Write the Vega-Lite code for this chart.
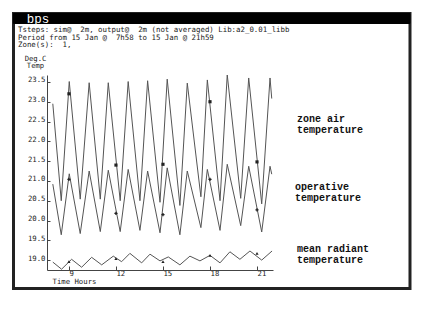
{
  "$schema": "https://vega.github.io/schema/vega-lite/v6.json",
  "width": 226,
  "height": 195,
  "autosize": {"type": "none"},
  "padding": {"left": 47, "top": 75, "right": 161, "bottom": 40},
  "background": "white",
  "config": {"view": {"stroke": null}, "font": "DejaVu Sans Mono", "axisY": {"labelOverlap": false}},
  "datasets": {
    "series": [
      {"s": "air", "t": 7.97, "v": 22.95}, {"s": "air", "t": 8.51, "v": 20.5}, {"s": "air", "t": 9.02, "v": 23.51},
      {"s": "air", "t": 9.72, "v": 20.54}, {"s": "air", "t": 10.29, "v": 23.48}, {"s": "air", "t": 11.0, "v": 20.54},
      {"s": "air", "t": 11.51, "v": 23.48}, {"s": "air", "t": 12.27, "v": 20.5}, {"s": "air", "t": 12.78, "v": 23.51},
      {"s": "air", "t": 13.53, "v": 20.5}, {"s": "air", "t": 14.02, "v": 23.53}, {"s": "air", "t": 14.81, "v": 20.46},
      {"s": "air", "t": 15.27, "v": 23.57}, {"s": "air", "t": 16.08, "v": 20.38}, {"s": "air", "t": 16.55, "v": 23.47},
      {"s": "air", "t": 17.42, "v": 20.6}, {"s": "air", "t": 17.83, "v": 23.55}, {"s": "air", "t": 18.64, "v": 20.5},
      {"s": "air", "t": 19.1, "v": 23.68}, {"s": "air", "t": 19.96, "v": 20.56}, {"s": "air", "t": 20.47, "v": 23.6},
      {"s": "air", "t": 21.3, "v": 20.42}, {"s": "air", "t": 21.83, "v": 23.6}, {"s": "air", "t": 21.94, "v": 23.08},
      {"s": "op", "t": 7.97, "v": 20.92}, {"s": "op", "t": 8.51, "v": 19.64}, {"s": "op", "t": 9.02, "v": 21.18},
      {"s": "op", "t": 9.72, "v": 19.67}, {"s": "op", "t": 10.29, "v": 21.25}, {"s": "op", "t": 11.0, "v": 19.72},
      {"s": "op", "t": 11.51, "v": 21.27}, {"s": "op", "t": 12.27, "v": 19.72}, {"s": "op", "t": 12.78, "v": 21.29},
      {"s": "op", "t": 13.53, "v": 19.75}, {"s": "op", "t": 14.02, "v": 21.25}, {"s": "op", "t": 14.81, "v": 19.69},
      {"s": "op", "t": 15.27, "v": 21.33}, {"s": "op", "t": 16.08, "v": 19.64}, {"s": "op", "t": 16.55, "v": 21.25},
      {"s": "op", "t": 17.42, "v": 19.82}, {"s": "op", "t": 17.83, "v": 21.29}, {"s": "op", "t": 18.64, "v": 19.75},
      {"s": "op", "t": 19.1, "v": 21.42}, {"s": "op", "t": 19.96, "v": 19.87}, {"s": "op", "t": 20.47, "v": 21.37},
      {"s": "op", "t": 21.3, "v": 19.71}, {"s": "op", "t": 21.83, "v": 21.37}, {"s": "op", "t": 21.94, "v": 21.17},
      {"s": "mrt", "t": 7.97, "v": 18.95}, {"s": "mrt", "t": 8.53, "v": 18.77}, {"s": "mrt", "t": 9.17, "v": 19.02},
      {"s": "mrt", "t": 9.81, "v": 18.82}, {"s": "mrt", "t": 10.45, "v": 19.07}, {"s": "mrt", "t": 11.09, "v": 18.88},
      {"s": "mrt", "t": 11.83, "v": 19.1}, {"s": "mrt", "t": 12.36, "v": 18.96}, {"s": "mrt", "t": 12.89, "v": 19.17},
      {"s": "mrt", "t": 13.64, "v": 18.93}, {"s": "mrt", "t": 14.17, "v": 19.15}, {"s": "mrt", "t": 14.81, "v": 18.98},
      {"s": "mrt", "t": 15.34, "v": 19.08}, {"s": "mrt", "t": 16.08, "v": 18.88}, {"s": "mrt", "t": 16.72, "v": 19.1},
      {"s": "mrt", "t": 17.36, "v": 18.98}, {"s": "mrt", "t": 18.0, "v": 19.12}, {"s": "mrt", "t": 18.64, "v": 18.93},
      {"s": "mrt", "t": 19.27, "v": 19.21}, {"s": "mrt", "t": 19.91, "v": 19.02}, {"s": "mrt", "t": 20.55, "v": 19.23},
      {"s": "mrt", "t": 21.3, "v": 19.0}, {"s": "mrt", "t": 21.96, "v": 19.23}
    ],
    "markers": [
      {"s": "air", "t": 9, "v": 23.2}, {"s": "air", "t": 12, "v": 21.4}, {"s": "air", "t": 15, "v": 21.42},
      {"s": "air", "t": 18, "v": 23.0}, {"s": "air", "t": 21, "v": 21.48},
      {"s": "op", "t": 9, "v": 21.04}, {"s": "op", "t": 12, "v": 20.18}, {"s": "op", "t": 15, "v": 20.15},
      {"s": "op", "t": 18, "v": 21.04}, {"s": "op", "t": 21, "v": 20.27},
      {"s": "mrt", "t": 9, "v": 18.96}, {"s": "mrt", "t": 12, "v": 19.04}, {"s": "mrt", "t": 15, "v": 18.96},
      {"s": "mrt", "t": 18, "v": 19.12}, {"s": "mrt", "t": 21, "v": 19.17}
    ],
    "one": [{}]
  },
  "layer": [
    {
      "data": {"name": "series"},
      "mark": {"type": "line", "color": "#555", "strokeWidth": 1, "clip": true},
      "encoding": {
        "x": {
          "field": "t", "type": "quantitative",
          "scale": {"domain": [7.6, 22.02], "nice": false, "zero": false},
          "axis": {
            "values": [9, 12, 15, 18, 21], "format": "d", "grid": false,
            "domainColor": "#444", "tickColor": "#444", "tickSize": -4,
            "labelAlign": "left", "labelBaseline": "top", "labelPadding": 3,
            "labelFont": "DejaVu Sans Mono", "labelFontSize": 7.3, "labelColor": "#222",
            "title": "Time Hours", "titleFont": "DejaVu Sans Mono", "titleFontSize": 7.3, "titleFontWeight": "normal",
            "titleColor": "#222", "titleAnchor": "start", "titleAlign": "left", "titleBaseline": "middle",
            "titleX": 5, "titleY": 11.5
          }
        },
        "y": {
          "field": "v", "type": "quantitative",
          "scale": {"domain": [18.75, 23.675], "nice": false, "zero": false},
          "axis": {
            "tickCount": 10, "format": ".1f", "grid": false,
            "labelOverlap": false, "labelSeparation": 0, "labelBound": false,
            "domainColor": "#444", "tickColor": "#444", "tickSize": -3,
            "labelAlign": "right", "labelBaseline": "alphabetic", "labelPadding": 5,
            "labelFont": "DejaVu Sans Mono", "labelFontSize": 7.3, "labelColor": "#222",
            "title": ["Deg.C", "Temp"], "titleFont": "DejaVu Sans Mono", "titleFontSize": 7.2, "titleFontWeight": "normal",
            "titleColor": "#222", "titleAngle": 0, "titleAlign": "center", "titleBaseline": "top",
            "titleX": -12, "titleY": -21, "titleLineHeight": 7.8
          }
        },
        "detail": {"field": "s"}
      }
    },
    {
      "data": {"name": "one"},
      "mark": {"type": "rect", "fill": null, "stroke": "#222", "strokeWidth": 3, "clip": false},
      "encoding": {
        "x": {"datum": 5.463, "type": "quantitative"},
        "x2": {"datum": 30.761},
        "y": {"datum": 25.228, "type": "quantitative"},
        "y2": {"datum": 18.283}
      }
    },
    {
      "data": {"name": "one"},
      "mark": {"type": "rect", "fill": "#000", "stroke": "#000", "strokeWidth": 1, "clip": false},
      "encoding": {
        "x": {"datum": 5.463, "type": "quantitative"},
        "x2": {"datum": 30.761},
        "y": {"datum": 25.228, "type": "quantitative"},
        "y2": {"datum": 24.976}
      }
    },
    {
      "data": {"name": "one"},
      "mark": {"type": "text", "text": "bps", "color": "white", "font": "Liberation Mono", "fontSize": 12.5, "align": "left", "baseline": "middle", "clip": false},
      "encoding": {
        "x": {"datum": 6.3, "type": "quantitative"},
        "y": {"datum": 25.08, "type": "quantitative"}
      }
    },
    {
      "data": {"name": "one"},
      "mark": {"type": "text", "text": ["Tsteps: sim@\u00a0\u00a02m, output@\u00a0\u00a02m (not averaged) Lib:a2_0.01_libb", "Period from 15 Jan @\u00a0\u00a07h58 to 15 Jan @ 21h59", "Zone(s):\u00a0\u00a01,"], "color": "#222", "font": "DejaVu Sans Mono", "fontSize": 7.4, "lineHeight": 7.5, "align": "left", "baseline": "top", "clip": false},
      "encoding": {
        "x": {"datum": 5.75, "type": "quantitative"},
        "y": {"datum": 24.9, "type": "quantitative"}
      }
    },
    {
      "data": {"name": "markers"},
      "mark": {"type": "point", "filled": true, "color": "#222", "opacity": 1},
      "encoding": {
        "x": {"field": "t", "type": "quantitative"},
        "y": {"field": "v", "type": "quantitative"},
        "shape": {"field": "s", "type": "nominal", "scale": {"domain": ["air", "op", "mrt"], "range": ["square", "cross", "triangle-up"]}, "legend": null},
        "size": {"value": 10}
      }
    },
    {
      "data": {"name": "one"},
      "mark": {"type": "text", "text": ["zone air", "temperature"], "font": "Liberation Mono", "fontWeight": "bold", "fontSize": 10, "align": "left", "baseline": "middle", "lineHeight": 11, "color": "#111", "clip": false},
      "encoding": {"x": {"datum": 23.55, "type": "quantitative"}, "y": {"datum": 22.576, "type": "quantitative"}}
    },
    {
      "data": {"name": "one"},
      "mark": {"type": "text", "text": ["operative", "temperature"], "font": "Liberation Mono", "fontWeight": "bold", "fontSize": 10, "align": "left", "baseline": "middle", "lineHeight": 11, "color": "#111", "clip": false},
      "encoding": {"x": {"datum": 23.43, "type": "quantitative"}, "y": {"datum": 20.846, "type": "quantitative"}}
    },
    {
      "data": {"name": "one"},
      "mark": {"type": "text", "text": ["mean radiant", "temperature"], "font": "Liberation Mono", "fontWeight": "bold", "fontSize": 10, "align": "left", "baseline": "middle", "lineHeight": 11, "color": "#111", "clip": false},
      "encoding": {"x": {"datum": 23.55, "type": "quantitative"}, "y": {"datum": 19.268, "type": "quantitative"}}
    }
  ]
}
